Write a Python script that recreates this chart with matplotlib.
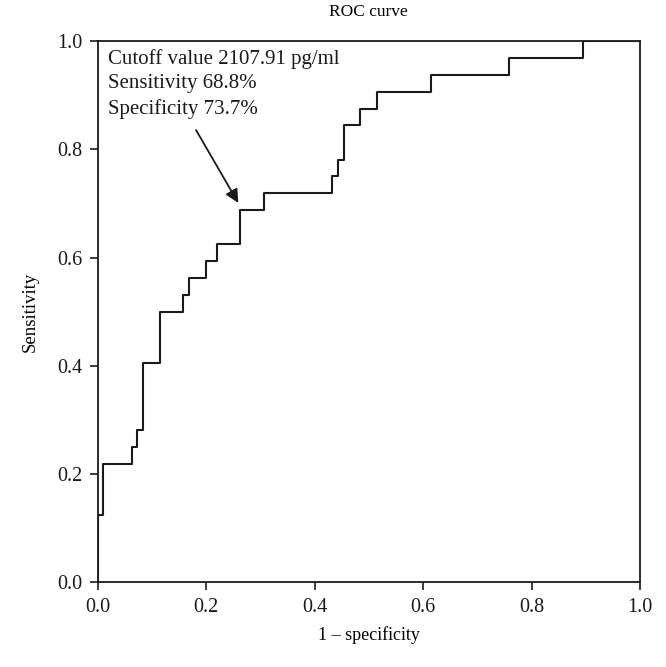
import matplotlib
matplotlib.use("Agg")
import matplotlib.pyplot as plt

# ROC curve step vertices (level becomes tpr[i] at fpr[i])
fpr = [0.0, 0.0, 0.011, 0.063, 0.073, 0.084, 0.116, 0.157, 0.168, 0.200, 0.221,
       0.263, 0.306, 0.432, 0.443, 0.454, 0.484, 0.516, 0.615, 0.759, 0.895, 1.0]
tpr = [0.0, 0.125, 0.219, 0.25, 0.281, 0.406, 0.5, 0.531, 0.5625, 0.594, 0.625,
       0.6875, 0.719, 0.75, 0.781, 0.844, 0.875, 0.906, 0.9375, 0.969, 1.0, 1.0]
ticks = [0.0, 0.2, 0.4, 0.6, 0.8, 1.0]
tick_labels = ["0.0", "0.2", "0.4", "0.6", "0.8", "1.0"]
annotation = "Cutoff value 2107.91 pg/ml\nSensitivity 68.8%\nSpecificity 73.7%"
cutoff_point = (0.2595, 0.701)
arrow_start = (0.1816, 0.8356)
text_pos = (0.019, 0.985)

plt.rcParams['font.family'] = ['Liberation Serif', 'DejaVu Serif']

fig = plt.figure(figsize=(6.66, 6.67), dpi=100)
ax = fig.add_axes([0.1464, 0.1267, 0.8146, 0.8118])
ax.plot(fpr, tpr, drawstyle='steps-post', color='#1a1a1a', lw=1.5)
ax.set_xlim(0, 1)
ax.set_ylim(0, 1)
ax.set_xticks(ticks)
ax.set_xticklabels(tick_labels)
ax.set_yticks(ticks)
ax.set_yticklabels(tick_labels)
ax.tick_params(direction='out', length=6, width=1.2, labelsize=14.5, pad=5, colors='#1a1a1a')
for s in ax.spines.values():
    s.set_linewidth(1.3)
    s.set_color('#1a1a1a')
ax.set_xlabel("1 – specificity", fontsize=13, labelpad=7)
ax.set_ylabel("Sensitivity", fontsize=13.5, labelpad=13)
ax.set_title("ROC curve", fontsize=12.5, pad=18)

ax.text(text_pos[0], text_pos[1], annotation, fontsize=15, va='top', ha='left',
        linespacing=1.38, color='#1a1a1a')
ax.annotate('', xy=cutoff_point, xytext=arrow_start, textcoords='data',
            arrowprops=dict(arrowstyle='-|>', color='#1a1a1a', lw=1.3,
                            mutation_scale=20, shrinkA=0, shrinkB=0))

fig.savefig("out.png", dpi=100)
